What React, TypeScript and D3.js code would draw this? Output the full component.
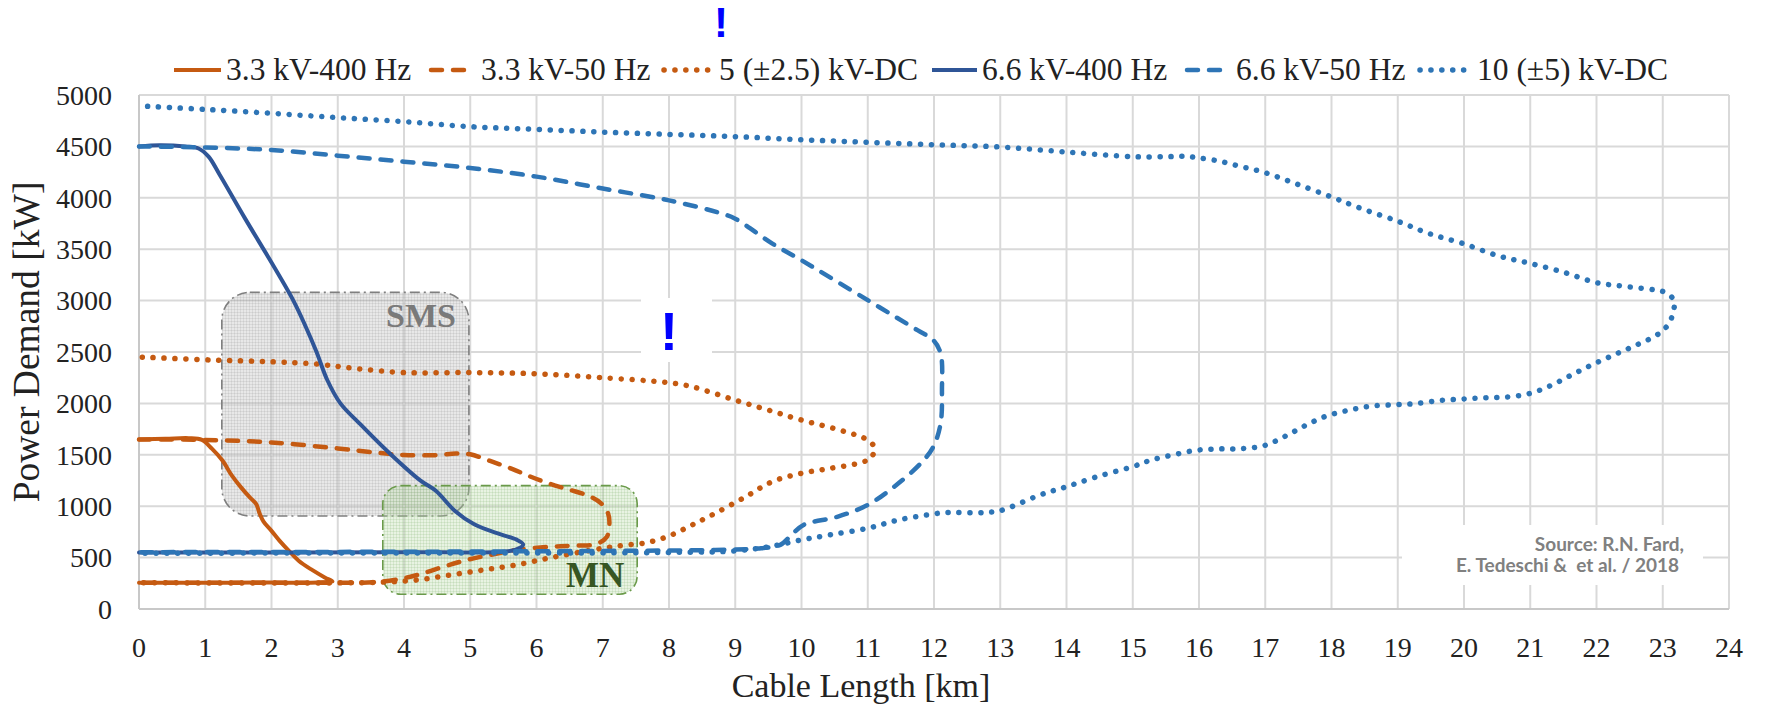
import React from 'react';
import * as d3 from 'd3';

// ---------- data ----------
const xTickValues: number[] = d3.range(0, 25);
const yTickValues: number[] = d3.range(0, 5001, 500);

const seriesNames = [
  '3.3 kV-400 Hz',
  '3.3 kV-50 Hz',
  '5 (±2.5) kV-DC',
  '6.6 kV-400 Hz',
  '6.6 kV-50 Hz',
  '10 (±5) kV-DC',
];

// [cable length km, power demand kW]
const kv33_400Hz: [number, number][] = [
  [0, 1650], [0.4, 1655], [0.75, 1662], [0.95, 1645], [1.1, 1560], [1.26, 1444], [1.4, 1300],
  [1.54, 1183], [1.68, 1080], [1.77, 1020], [1.82, 930], [1.88, 850], [2.0, 760], [2.12, 665],
  [2.27, 560], [2.41, 470], [2.6, 385], [2.81, 305], [2.92, 268], [2.7, 258], [2.0, 257],
  [1.0, 256], [0, 255],
];
const kv33_50Hz: [number, number][] = [
  [0, 1650], [1.0, 1645], [2.0, 1620], [3.0, 1562], [3.6, 1520], [4.0, 1498], [4.5, 1497],
  [4.78, 1512], [5.0, 1505], [5.3, 1440], [5.63, 1363], [5.9, 1290], [6.21, 1216], [6.5, 1160],
  [6.79, 1100], [6.97, 1030], [7.08, 930], [7.1, 824], [7.06, 700], [6.9, 632], [6.5, 615],
  [6.2, 605], [5.7, 575], [5.3, 526], [4.95, 477], [4.6, 412], [4.2, 331], [3.85, 282],
  [3.45, 257], [3.0, 255], [0, 255],
];
const kv5_DC: [number, number][] = [
  [0.05, 2450], [1.1, 2422], [2.0, 2405], [2.68, 2383], [3.24, 2341], [4.0, 2300], [5.0, 2300],
  [6.0, 2288], [7.0, 2250], [8.0, 2201], [8.35, 2162], [9.0, 2032], [9.5, 1935], [10.0, 1838],
  [10.66, 1725], [10.98, 1650], [11.1, 1572], [11.05, 1472], [10.89, 1423], [10.43, 1368],
  [10.0, 1320], [9.56, 1239], [9.16, 1093], [8.7, 932], [8.35, 818], [8.0, 710], [7.66, 645],
  [7.32, 620], [7.0, 591], [6.3, 510], [5.7, 430], [5.2, 380], [4.7, 331], [4.2, 282],
  [3.7, 262], [3.2, 255], [0, 255],
];
const kv66_400Hz: [number, number][] = [
  [0, 4500], [0.31, 4512], [0.7, 4500], [0.9, 4480], [1.05, 4400], [1.22, 4222], [1.6, 3800],
  [2.0, 3370], [2.33, 3000], [2.5, 2770], [2.68, 2500], [2.84, 2230],
  [3.04, 2000], [3.33, 1804], [3.79, 1510], [4.25, 1248], [4.48, 1150], [4.77, 954],
  [5.06, 824], [5.46, 725], [5.7, 675], [5.8, 627], [5.69, 578], [5.5, 558], [4.0, 552], [0, 550],
];
const kv66_50Hz: [number, number][] = [
  [0, 4500], [1.0, 4490], [2.0, 4465], [3.0, 4410], [4.0, 4351], [5.0, 4290], [6.0, 4206],
  [7.0, 4090], [8.0, 3975], [8.8, 3846], [9.0, 3797], [9.56, 3554], [10.0, 3392], [11.0, 3004],
  [11.75, 2712], [11.99, 2615], [12.1, 2486], [12.12, 2130], [12.1, 1806], [11.99, 1579],
  [11.8, 1417], [11.4, 1190], [11.0, 1012], [10.55, 899], [10.03, 818], [9.85, 721], [9.68, 624],
  [9.39, 591], [8.7, 575], [7.0, 565], [4.0, 557], [0, 553],
];
const kv10_DC: [number, number][] = [
  [0.13, 4890], [1.0, 4860], [2.0, 4822], [3.0, 4780], [4.0, 4741], [5.0, 4692], [6.0, 4666],
  [7.0, 4639], [8.0, 4617], [9.0, 4595], [10.0, 4565], [11.0, 4540], [12.0, 4516], [13.0, 4494],
  [14.0, 4445], [15.0, 4400], [15.5, 4400], [15.8, 4403], [16.0, 4387], [16.3, 4358],
  [16.62, 4306], [16.98, 4248], [17.46, 4138], [18.0, 4008], [18.41, 3905], [19.0, 3772],
  [19.47, 3653], [19.98, 3556], [20.53, 3433], [21.0, 3362], [21.53, 3271], [22.0, 3174],
  [22.38, 3142], [22.88, 3103], [23.05, 3077], [23.17, 3000], [23.16, 2892], [23.1, 2786],
  [23.0, 2708], [22.85, 2643], [22.53, 2547], [22.23, 2462], [21.92, 2372], [21.61, 2272],
  [21.3, 2171], [20.98, 2094], [20.64, 2062], [20.3, 2055], [19.96, 2042], [19.63, 2029],
  [19.26, 1997], [18.93, 1987], [18.57, 1971], [18.25, 1932], [17.91, 1874], [17.6, 1783],
  [17.3, 1680], [16.98, 1589], [16.64, 1560], [16.3, 1557], [15.96, 1544], [15.61, 1499],
  [15.27, 1447], [15.0, 1385], [14.46, 1287], [14.0, 1190], [13.6, 1109], [13.0, 957],
  [12.73, 938], [12.16, 938], [12.0, 925], [11.47, 867], [11.0, 786], [10.43, 721], [10.0, 672],
  [9.5, 605], [9.0, 565], [8.0, 550], [4.0, 545], [0, 543],
];

// shaded regions: [x0, x1] km, [y0, y1] kW
const regionLabels = ['SMS', 'MN'];
const regionXRange: [number, number][] = [[1.25, 4.98], [3.68, 7.52]];
const regionYRange: [number, number][] = [[905, 3080], [143, 1200]];

const sourceLines = ['Source: R.N. Fard,', 'E. Tedeschi &  et al. / 2018'];

// ---------- styles ----------
const ORANGE = '#C55A11';
const DARKBLUE = '#2F5597';
const BLUE = '#2E75B6';
const DASH = '11 11';
const DOT = '0.1 10.8';

const seriesData = [kv33_400Hz, kv33_50Hz, kv5_DC, kv66_400Hz, kv66_50Hz, kv10_DC];
const seriesStyle = [
  { color: ORANGE, dash: null as string | null, width: 4 },
  { color: ORANGE, dash: DASH, width: 4.5 },
  { color: ORANGE, dash: DOT, width: 5.5 },
  { color: DARKBLUE, dash: null as string | null, width: 4 },
  { color: BLUE, dash: DASH, width: 4.5 },
  { color: BLUE, dash: DOT, width: 5.5 },
];
// legend layout (sample start, sample end, text start)
const legendLayout = [
  [174, 221, 226],
  [431, 472, 481],
  [664, 711, 719],
  [932, 977, 982],
  [1187, 1228, 1236],
  [1420, 1469, 1477],
];

const SERIF = '"Liberation Serif", "Times New Roman", serif';

export default function App() {
  const W = 1765;
  const H = 710;
  const x = d3.scaleLinear().domain([0, 24]).range([139, 1729]);
  const y = d3.scaleLinear().domain([0, 5000]).range([609, 95]);
  const line = d3
    .line<[number, number]>()
    .x((d) => x(d[0]))
    .y((d) => y(d[1]))
    .curve(d3.curveCatmullRom.alpha(0.5));

  const [x0, x1] = x.range();
  const [yb, yt] = y.range();

  return (
    <svg
      width={W}
      height={H}
      viewBox={`0 0 ${W} ${H}`}
      style={{ position: 'absolute', left: 0, top: 0, background: '#fff' }}
    >
      <defs>
        <pattern id="smsPat" width="3" height="3" patternUnits="userSpaceOnUse">
          <rect width="3" height="3" fill="rgba(190,190,190,0.35)" />
          <rect width="1" height="3" fill="rgba(150,150,150,0.18)" />
          <rect width="3" height="1" fill="rgba(150,150,150,0.18)" />
        </pattern>
        <pattern id="mnPat" width="3" height="3" patternUnits="userSpaceOnUse">
          <rect width="3" height="3" fill="rgba(180,215,160,0.3)" />
          <rect width="1" height="3" fill="rgba(120,170,100,0.16)" />
          <rect width="3" height="1" fill="rgba(120,170,100,0.16)" />
        </pattern>
      </defs>
      <rect x={0} y={0} width={W} height={H} fill="#fff" />

      {/* gridlines */}
      {yTickValues.map((v) => (
        <line key={'gy' + v} x1={x0} x2={x1} y1={y(v)} y2={y(v)} stroke="#d9d9d9" strokeWidth={2} />
      ))}
      {xTickValues.map((v) => (
        <line key={'gx' + v} x1={x(v)} x2={x(v)} y1={yb} y2={yt} stroke="#d9d9d9" strokeWidth={2} />
      ))}
      <line x1={x0} x2={x0} y1={yb} y2={yt} stroke="#c8c8c8" strokeWidth={2} />
      <line x1={x0} x2={x1} y1={yb} y2={yb} stroke="#c8c8c8" strokeWidth={2} />

      {/* white patch behind middle exclamation */}
      <rect x={641} y={298} width={71} height={64} fill="#fff" />
      {/* source box */}
      <rect x={1402} y={525} width={301} height={60} fill="#fff" />

      {/* regions */}
      {regionLabels.map((lab, i) => {
        const rx0 = x(regionXRange[i][0]);
        const rx1 = x(regionXRange[i][1]);
        const ry0 = y(regionYRange[i][1]);
        const ry1 = y(regionYRange[i][0]);
        const isSms = i === 0;
        return (
          <g key={lab}>
            <rect
              x={rx0}
              y={ry0}
              width={rx1 - rx0}
              height={ry1 - ry0}
              rx={isSms ? 28 : 18}
              ry={isSms ? 28 : 18}
              fill={isSms ? 'url(#smsPat)' : 'url(#mnPat)'}
              stroke={isSms ? '#7f7f7f' : '#6a9a4a'}
              strokeWidth={1.6}
              strokeDasharray="10 4 2 4"
            />
          </g>
        );
      })}

      {/* series */}
      {seriesData.map((d, i) => {
        const st = seriesStyle[i];
        return (
          <path
            key={seriesNames[i]}
            d={line(d) || ''}
            fill="none"
            stroke={st.color}
            strokeWidth={st.width}
            strokeDasharray={st.dash || undefined}
            strokeLinecap="round"
            strokeLinejoin="round"
          />
        );
      })}

      {/* region labels */}
      {regionLabels.map((lab, i) => {
        const isSms = i === 0;
        const tx = x(regionXRange[i][1]) - 13;
        const ty = isSms ? y(regionYRange[i][1]) + 35 : y(regionYRange[i][0]) - 7;
        return (
          <text
            key={'t' + lab}
            x={tx}
            y={ty}
            textAnchor="end"
            fontFamily={SERIF}
            fontWeight="bold"
            fontSize={isSms ? 34 : 35}
            fill={isSms ? '#7a7a7a' : '#375623'}
          >
            {lab}
          </text>
        );
      })}

      {/* y tick labels */}
      {yTickValues.map((v) => (
        <text key={'ty' + v} x={112} y={y(v)} dy="0.35em" textAnchor="end" fontFamily={SERIF} fontSize={28} fill="#222">
          {v}
        </text>
      ))}
      {/* x tick labels */}
      {xTickValues.map((v) => (
        <text key={'tx' + v} x={x(v)} y={657} textAnchor="middle" fontFamily={SERIF} fontSize={28} fill="#222">
          {v}
        </text>
      ))}

      {/* axis titles */}
      <text x={861} y={697} textAnchor="middle" fontFamily={SERIF} fontSize={34} fill="#222">
        Cable Length [km]
      </text>
      <text
        transform={`translate(39, 342) rotate(-90)`}
        textAnchor="middle"
        fontFamily={SERIF}
        fontSize={37.5}
        fill="#222"
      >
        Power Demand [kW]
      </text>

      {/* legend */}
      {seriesNames.map((name, i) => {
        const st = seriesStyle[i];
        const [s0, s1, t0] = legendLayout[i];
        return (
          <g key={'lg' + i}>
            <line
              x1={s0}
              x2={s1}
              y1={70}
              y2={70}
              stroke={st.color}
              strokeWidth={st.width}
              strokeDasharray={st.dash || undefined}
              strokeLinecap={st.dash ? 'round' : 'butt'}
            />
            <text x={t0} y={80} fontFamily={SERIF} fontSize={31.5} fill="#222">
              {name}
            </text>
          </g>
        );
      })}

      {/* source */}
      <text fontFamily='Lato, "Open Sans", sans-serif' fontWeight="bold" fontSize={19} fill="#808080" textAnchor="end">
        <tspan x={1684} y={551}>{sourceLines[0]}</tspan>
        <tspan x={1679} y={572} style={{ whiteSpace: 'pre' }}>{sourceLines[1]}</tspan>
      </text>

      {/* exclamation marks */}
      <text x={721} y={37} textAnchor="middle" fontFamily='"Liberation Sans", Arial, sans-serif' fontWeight="bold" fontSize={42} fill="#0000ff">
        !
      </text>
      <text x={669} y={350} textAnchor="middle" fontFamily='"Liberation Sans", Arial, sans-serif' fontWeight="bold" fontSize={54} fill="#0000ff">
        !
      </text>
    </svg>
  );
}
